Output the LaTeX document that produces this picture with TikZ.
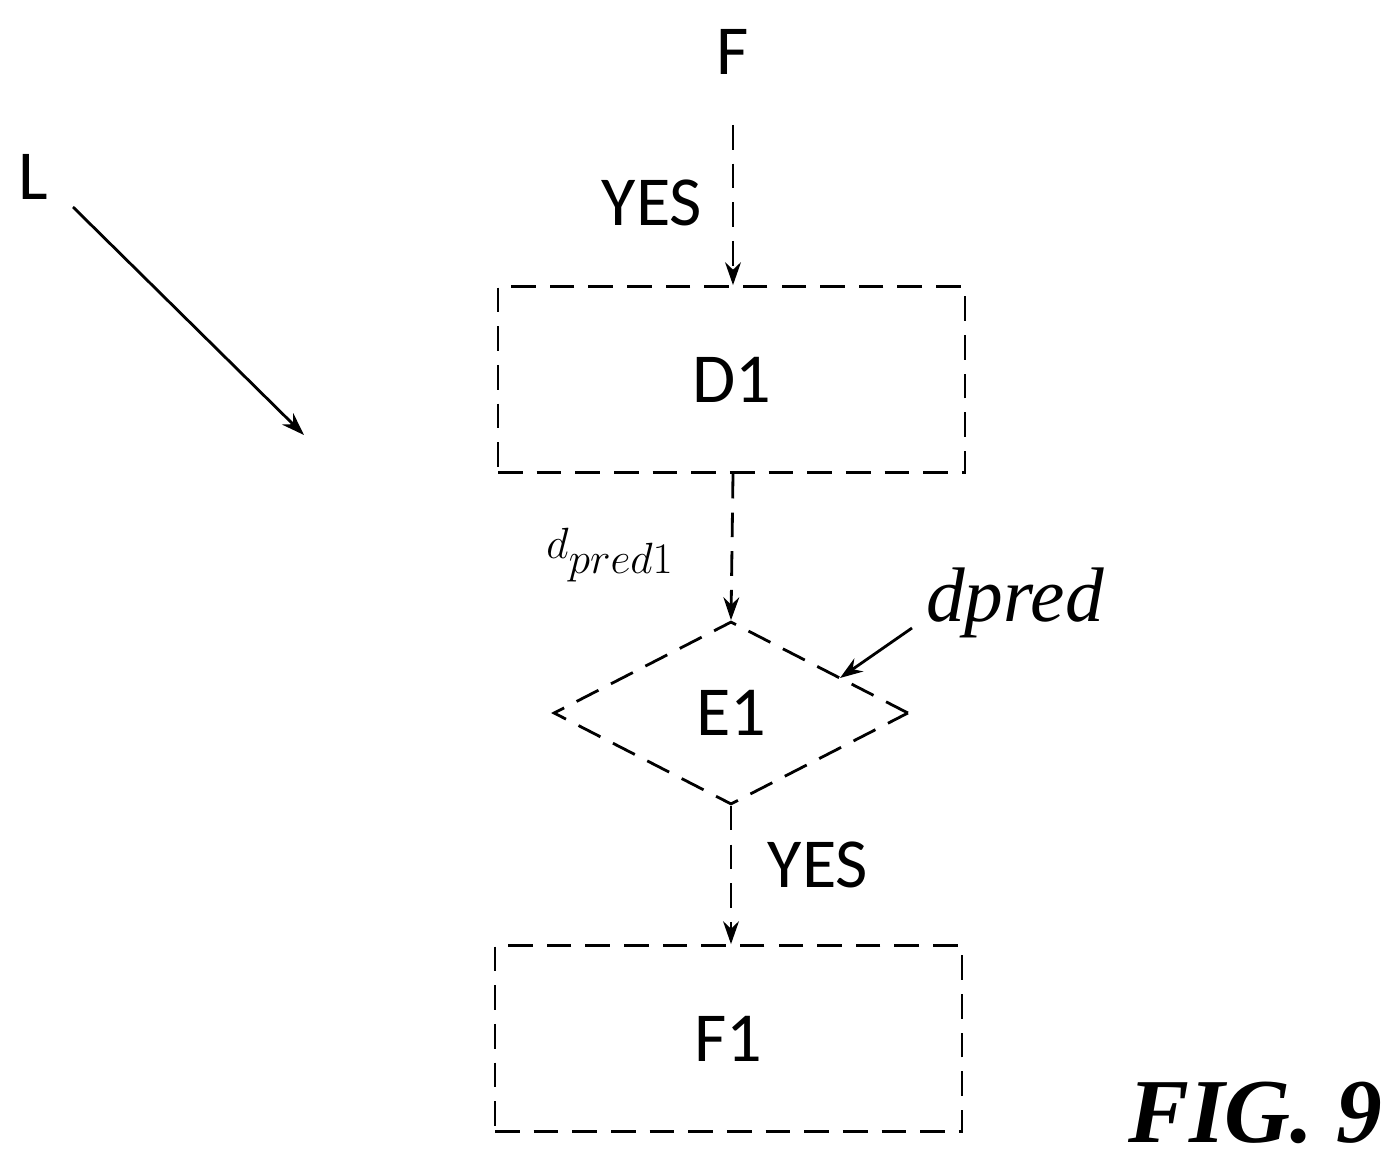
\documentclass[tikz,border=0pt]{standalone}
\usepackage{fontspec}
\setmainfont{Liberation Serif}
\newfontfamily\calfnt{Carlito}
\usetikzlibrary{arrows.meta,shapes.geometric}
\begin{document}
\begin{tikzpicture}[x=0.02cm,y=-0.02cm,
  dsh/.style={line width=1.6pt,dash pattern=on 14pt off 8pt},
  arr/.style={line width=1.6pt,-{Stealth[length=13pt,width=9pt]}},
  lbl/.style={font=\calfnt\fontsize{40}{44}\selectfont,inner sep=0pt},
  box/.style={draw,dsh,minimum width=9.34cm,minimum height=3.72cm,font=\calfnt\fontsize{40}{44}\selectfont},
  ital/.style={font=\itshape\fontsize{44}{48}\selectfont,inner sep=0pt}]
\useasboundingbox (0,0) rectangle (1389,1166);
\node[lbl] (F) at (733,52) {F};
\node[lbl] (yes1) at (652,203) {YES};
\node[lbl] (L) at (33,177) {L};
\coordinate (Ls) at (73,207);
\coordinate (Le) at (304,435);
\draw[arr] (Ls) -- (Le);
\node[box] (D1) at (731.5,379.5) {D1};
\coordinate (a1) at (733,125);
\draw[dsh,arr] (a1) -- (D1.north -| a1);
\node[draw,dsh,diamond,minimum width=7.1cm,minimum height=3.66cm,inner sep=0pt,font=\calfnt\fontsize{40}{44}\selectfont] (E1) at (731,713) {E1};
\draw[dsh,arr] (D1.south -| a1) -- (E1.north);
\node[ital] (dp1) at (610,555) {$d_{pred1}$};
\node[ital] (dp) at (1015,603) {dpred};
\coordinate (c1) at (912,628);
\coordinate (c2) at (840,678);
\draw[arr] (c1) -- (c2);
\node[box] (F1) at (728.5,1038.5) {F1};
\draw[dsh,arr] (E1.south) -- (F1.north -| E1.south);
\node[lbl] (yes2) at (818,865) {YES};
\node[font=\bfseries\itshape\fontsize{52}{56}\selectfont,inner sep=0pt] (fig) at (1255,1113) {FIG. 9};
\end{tikzpicture}
\end{document}
